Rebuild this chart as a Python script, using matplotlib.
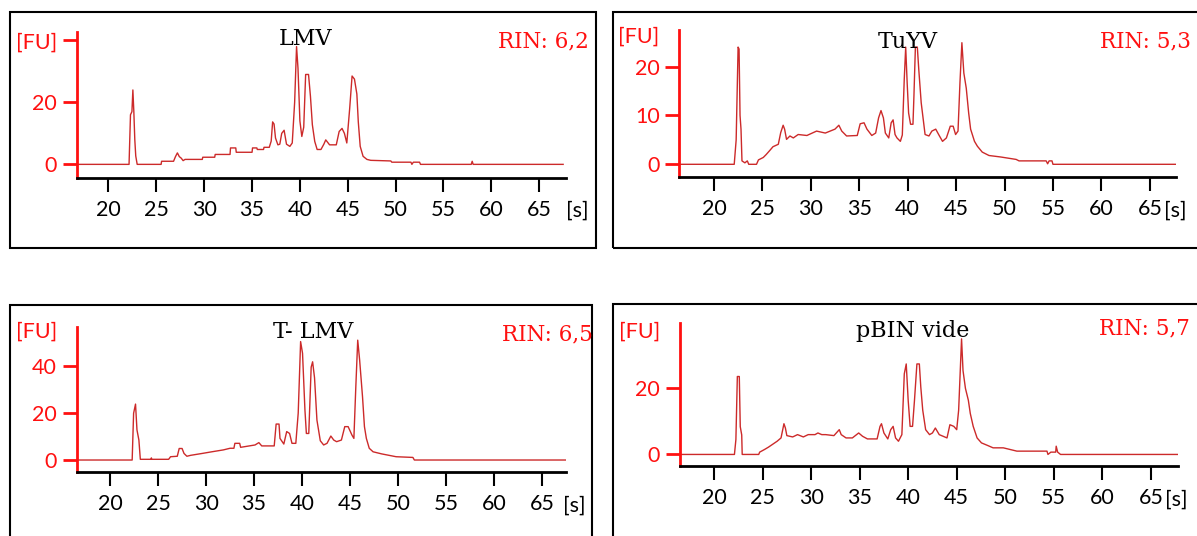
import matplotlib
matplotlib.use('Agg')
import matplotlib.pyplot as plt
from matplotlib.patches import Rectangle

W, H = 1197, 536

names = ['LMV', 'TuYV', 'T- LMV', 'pBIN vide']
rin = ['RIN: 6,2', 'RIN: 5,3', 'RIN: 6,5', 'RIN: 5,7']
xticks = [20, 25, 30, 35, 40, 45, 50, 55, 60, 65]
yticks = [[0, 20], [0, 10, 20], [0, 20, 40], [0, 20]]
fu_pos = [40, 26.6, 55.3, 37.9]

t_lmv = [16.7, 22.15, 22.3, 22.45, 22.55, 22.65, 22.75, 22.85, 23.0, 25.5, 25.55, 26.8, 27.0, 27.2, 27.4, 27.6,
         27.8, 28.0, 29.8, 29.85, 31.1, 31.15, 32.7, 32.75, 33.3, 33.35, 35.0, 35.05, 35.5, 35.55, 36.2, 36.25,
         36.8, 37.0, 37.15, 37.3, 37.45, 37.7, 37.9, 38.1, 38.35, 38.6, 38.95, 39.2, 39.45, 39.65, 39.8, 40.0,
         40.2, 40.4, 40.6, 40.9, 41.1, 41.3, 41.55, 41.8, 42.2, 42.5, 42.7, 43.1, 43.8, 44.1, 44.4, 44.65, 44.9,
         45.2, 45.45, 45.7, 45.95, 46.1, 46.3, 46.6, 47.0, 47.4, 49.5, 49.6, 51.6, 51.7, 51.85, 52.5, 52.6,
         57.9, 58.0, 58.1, 67.5]
fu_lmv = [0, 0, 16, 17, 24, 17, 8, 2.7, 0, 0, 1.0, 1.0, 2.5, 3.7, 2.5, 2.0,
          1.2, 1.6, 1.6, 2.3, 2.3, 3.2, 3.2, 5.3, 5.3, 3.9, 3.9, 5.3, 5.3, 4.8, 4.8, 5.5,
          5.5, 7.5, 13.7, 13, 8.5, 6.3, 6.5, 10, 11, 6.5, 5.8, 6.9, 20, 38, 31, 14,
          9, 12, 29, 29, 22, 12.8, 7.4, 4.8, 4.8, 6.5, 7.9, 6.3, 6.3, 10.6, 11.6, 10, 6.9,
          18, 28.5, 27.5, 22.7, 13.7, 5.8, 2.6, 1.6, 1.3, 1.1, 0.7, 0.7, 0, 0.7, 0.7, 0,
          0, 1.0, 0, 0]

t_tuyv = [16.4, 22.1, 22.3, 22.5, 22.6, 22.7, 22.8, 22.9, 23.2, 23.45, 23.6, 24.4, 24.6, 25.1, 25.4, 25.8,
          26.1, 26.65, 26.9, 27.15, 27.3, 27.5, 27.85, 28.2, 28.7, 29.6, 30.6, 31.5, 32.5, 32.9, 33.2, 33.7,
          34.8, 35.1, 35.5, 35.8, 36.3, 36.7, 37.0, 37.25, 37.5, 37.7, 38.05, 38.3, 38.5, 38.7, 38.9, 39.25,
          39.45, 39.65, 39.8, 39.95, 40.1, 40.3, 40.55, 40.65, 40.8, 41.0, 41.15, 41.4, 41.8, 42.2, 42.5, 42.9,
          43.2, 43.6, 44.0, 44.4, 44.7, 44.95, 45.2, 45.4, 45.6, 45.8, 46.05, 46.3, 46.5, 46.9, 47.2, 47.7,
          48.4, 49.6, 51.2, 51.5, 54.3, 54.45, 54.6, 54.9, 55.0, 67.7]
fu_tuyv = [0, 0, 5, 24, 23.6, 10, 7.2, 0.7, 0.3, 0.7, 0, 0, 0.9, 1.4, 2.0, 2.9,
           3.6, 4.1, 6.5, 8, 7.2, 5.1, 5.8, 5.4, 6.1, 5.9, 6.8, 6.4, 7.2, 8, 6.8, 5.8,
           5.9, 8.3, 8.5, 7.2, 5.9, 6.4, 9.5, 11, 9.5, 6.4, 5.4, 8.5, 9.1, 6.1, 5.4, 4.7,
           6, 17.4, 24, 16.7, 10.5, 8.2, 8.2, 14, 24, 24, 19.4, 12.6, 6.1, 5.8, 6.8, 7.2,
           6.1, 4.7, 5.4, 7.8, 7.8, 6.1, 6.8, 16.7, 24.9, 18.7, 15.6, 10.5, 7.2, 4.7, 3.7, 2.5,
           1.8, 1.5, 1.0, 0.7, 0.7, 0.1, 0.7, 0.7, 0, 0]

t_tlmv = [16.5, 22.3, 22.45, 22.65, 22.8, 23.0, 23.15, 24.25, 24.3, 24.35, 26.1, 26.3, 27.0, 27.2, 27.5, 27.7,
          28.0, 28.4, 29.6, 30.6, 31.8, 32.5, 32.9, 33.0, 33.5, 33.6, 35.1, 35.5, 35.8, 37.1, 37.3, 37.6,
          37.7, 38.1, 38.4, 38.7, 38.95, 39.35, 39.6, 39.85, 40.05, 40.3, 40.45, 40.7, 40.95, 41.1, 41.3, 41.55,
          41.9, 42.25, 42.6, 43.0, 43.3, 43.6, 44.1, 44.45, 44.8, 45.2, 45.4, 45.6, 45.8, 46.0, 46.3, 46.5,
          46.7, 47.0, 47.4, 48.3, 49.8, 51.55, 51.7, 67.5]
fu_tlmv = [0, 0, 19.9, 23.8, 12.8, 8.5, 0.3, 0.3, 0.9, 0.3, 0.3, 1.4, 1.6, 4.9, 4.9, 2.8,
           1.6, 2.0, 2.8, 3.5, 4.3, 5.0, 5.0, 7.1, 7.1, 5.4, 6.4, 7.4, 6.0, 6.0, 15.3, 15.3,
           9.2, 6.8, 12.1, 11.3, 7.1, 7.1, 20, 50.4, 45.4, 21.3, 11.3, 11.3, 39.5, 41.8, 35, 17,
           8.2, 6.4, 7.1, 10.2, 8.5, 7.8, 8.5, 14.2, 14.2, 10.6, 9.2, 31, 51, 42.5, 26.9, 14.2,
           9.2, 5.0, 3.5, 2.6, 1.4, 1.1, 0, 0]

t_pbin = [16.45, 22.1, 22.25, 22.4, 22.6, 22.7, 22.85, 22.9, 24.6, 24.7, 25.2, 25.6, 26.0, 26.5, 26.9, 27.2,
          27.35, 27.5, 28.1, 28.6, 29.2, 29.7, 30.4, 30.7, 31.1, 31.5, 32.35, 32.9, 33.1, 33.6, 34.25, 34.9,
          35.3, 35.8, 36.8, 37.1, 37.25, 37.5, 37.9, 38.2, 38.45, 38.7, 39.0, 39.35, 39.6, 39.8, 40.0, 40.2,
          40.45, 40.65, 40.9, 41.15, 41.3, 41.5, 41.8, 42.2, 42.5, 42.8, 43.2, 43.6, 44.0, 44.3, 44.7, 45.0,
          45.2, 45.5, 45.65, 45.9, 46.2, 46.4, 46.7, 47.1, 47.55, 48.2, 48.75, 49.8, 51.2, 54.3, 54.4, 54.7,
          55.2, 55.25, 55.4, 55.7, 67.8]
fu_pbin = [0, 0, 4.5, 23.6, 23.6, 8.4, 5.9, 0, 0, 0.7, 1.5, 2.2, 3.0, 4.0, 5.0, 9.3,
           8.0, 5.7, 5.3, 6.0, 5.3, 6.0, 6.0, 6.5, 6.0, 6.0, 5.7, 7.5, 6.0, 5.0, 5.0, 6.5,
           5.5, 4.7, 4.7, 8.5, 9.3, 6.5, 4.7, 7.5, 8.5, 5.0, 4.0, 6.0, 24.4, 27.4, 16.4, 8.5,
           8.5, 16.4, 27.4, 27.4, 20.4, 13.4, 7.5, 6.0, 6.5, 8.0, 6.0, 5.5, 5.0, 9.0, 8.5, 7.5,
           13.4, 35, 25.4, 20, 16.4, 12.4, 8.5, 5.0, 3.5, 2.7, 2.0, 2.0, 1.0, 1.0, 0, 0.7,
           0.7, 2.5, 0.7, 0, 0]

times = [t_lmv, t_tuyv, t_tlmv, t_pbin]
values = [fu_lmv, fu_tuyv, fu_tlmv, fu_pbin]

# pixel layout: axes (left, top, right, bottom), limits, frame box, text spots
ax_px = [(76.5, 32, 566, 178), (679, 30, 1176, 177), (76.5, 327, 566, 472), (679.6, 323, 1178, 466)]
xlims = [(16.66, 67.8), (16.4, 67.7), (16.5, 67.5), (16.45, 67.8)]
ylims = [(-4.4, 42.7), (-2.6, 27.5), (-5.1, 56.6), (-3.5, 39.8)]
boxes = [(10, 12, 596, 248), (613, 12, 1205, 248), (10, 305, 592, 545), (613, 304, 1205, 545)]
title_xy = [(306, 39), (908, 42), (313, 332), (913, 331)]
rin_xy = [(543, 41), (1146, 41), (547, 334), (1144, 328)]
s_xy = [(577, 211), (1175, 211), (574, 506), (1176, 500)]

fig = plt.figure(figsize=(W / 100, H / 100), dpi=100)
red = '#ff1010'
tick_font = 15.5

for i in range(4):
    l, t, r, b = ax_px[i]
    ax = fig.add_axes([l / W, 1 - b / H, (r - l) / W, (b - t) / H])
    ax.plot(times[i], values[i], color='#cc2a2a', lw=1.0)
    ax.set_xlim(xlims[i])
    ax.set_ylim(ylims[i])
    for s in ['top', 'right']:
        ax.spines[s].set_visible(False)
    ax.spines['left'].set_color(red)
    ax.spines['left'].set_linewidth(2)
    ax.spines['bottom'].set_color('black')
    ax.spines['bottom'].set_linewidth(2)
    ax.set_xticks(xticks)
    ax.set_xticklabels([str(v) for v in xticks], fontfamily='Lato', fontsize=tick_font)
    ax.set_yticks(yticks[i] + [fu_pos[i]])
    ax.set_yticklabels([str(v) for v in yticks[i]] + ['[FU]'], fontfamily='Lato', fontsize=tick_font)
    ax.tick_params(axis='x', direction='out', length=10, width=1.5, pad=6, colors='black')
    ax.tick_params(axis='y', direction='out', length=10, width=2, pad=4, color=red, labelcolor=red)
    if i != 0:
        ax.yaxis.get_major_ticks()[-1].tick1line.set_visible(False)

    bx0, by0, bx1, by1 = boxes[i]
    fig.add_artist(Rectangle((bx0 / W, 1 - by1 / H), (bx1 - bx0) / W, (by1 - by0) / H,
                             fill=False, lw=1.5, ec='black', transform=fig.transFigure))
    fig.text(title_xy[i][0] / W, 1 - title_xy[i][1] / H, names[i], ha='center', va='center',
             fontfamily='DejaVu Serif', fontsize=16)
    fig.text(rin_xy[i][0] / W, 1 - rin_xy[i][1] / H, rin[i], ha='center', va='center',
             fontfamily='DejaVu Serif', fontsize=15.5, color=red)
    fig.text(s_xy[i][0] / W, 1 - s_xy[i][1] / H, '[s]', ha='center', va='center',
             fontfamily='Lato', fontsize=tick_font)

fig.savefig('out.png', dpi=100)
